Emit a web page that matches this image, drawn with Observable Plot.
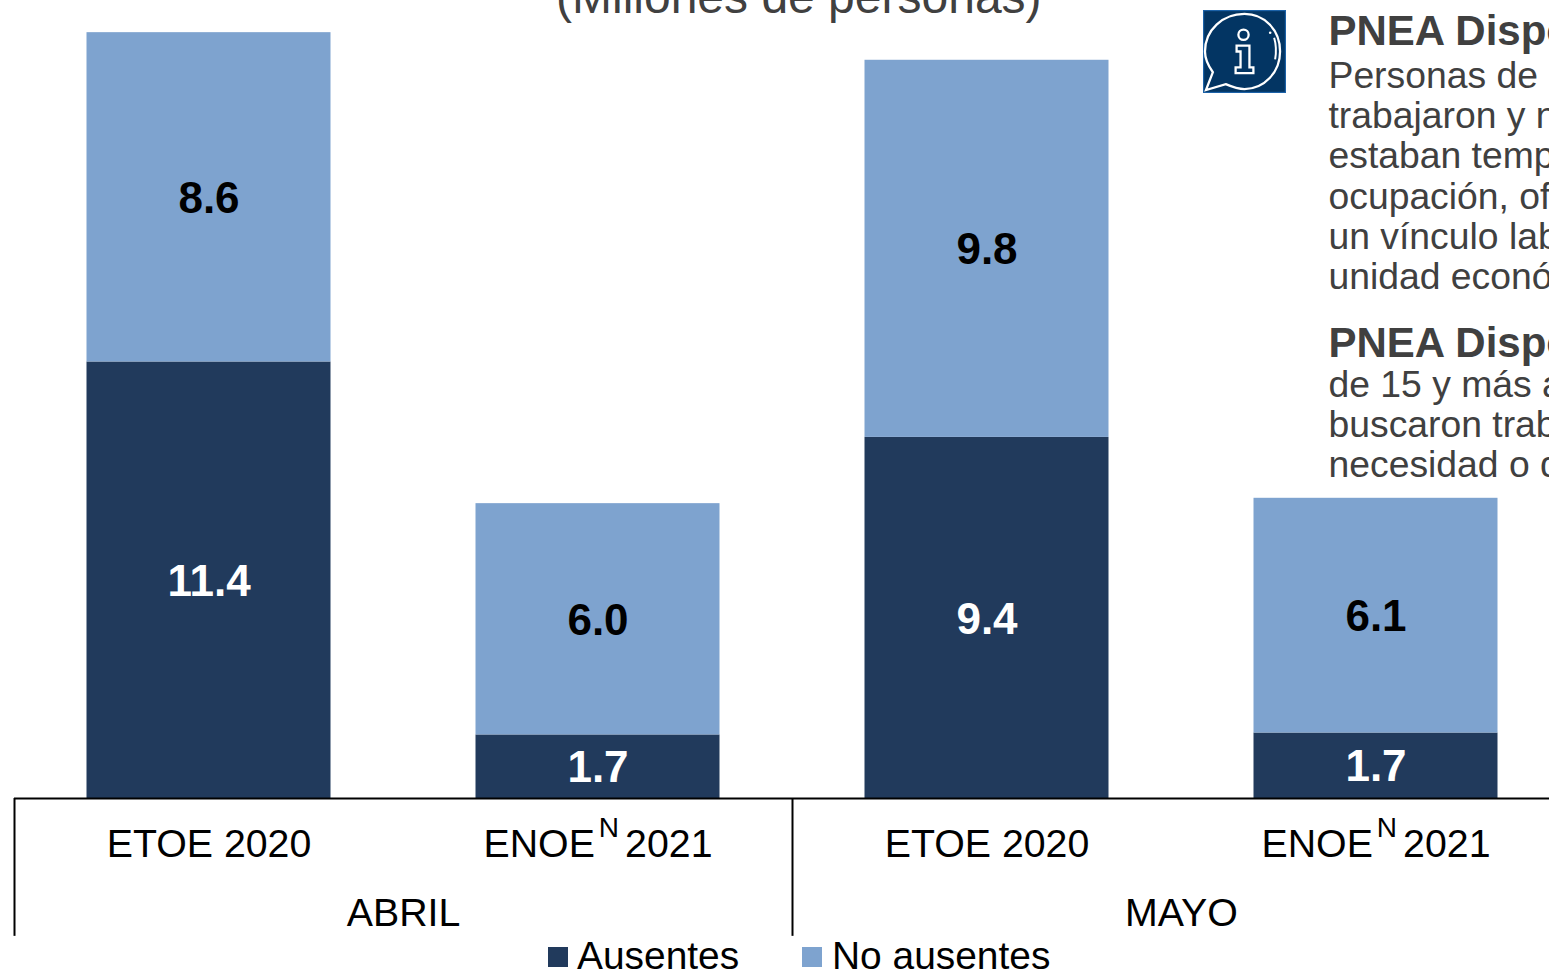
<!DOCTYPE html>
<html lang="es">
<head>
<meta charset="utf-8">
<title>PNEA Disponible</title>
<script src="https://cdn.jsdelivr.net/npm/d3@7"></script>
<script src="https://cdn.jsdelivr.net/npm/@observablehq/plot@0.6"></script>
<style>
  html, body { margin: 0; padding: 0; width: 1549px; height: 970px; overflow: hidden; background: #fff; font-family: "Liberation Sans", Arial, sans-serif; }
  #chart { position: absolute; left: 0; top: 0; }
  .t { position: absolute; white-space: nowrap; }
  #title { left: 556px; top: -31.5px; font-size: 48px; line-height: 56px; color: #404040; }
  .info { left: 1328.5px; color: #404040; font-size: 37.3px; line-height: 40.2px; }
  .info b { font-size: 42px; }
  #icon { position: absolute; left: 1203px; top: 9.5px; }
  .lg { position: absolute; top: 947px; width: 20px; height: 20px; }
  .lgt { top: 934px; font-size: 38.9px; line-height: 44px; color: #000; }
</style>
</head>
<body>
<div id="chart"></div>
<div class="t" id="title">(Millones de personas)</div>
<svg id="icon" width="83" height="83" viewBox="0 0 84 84">
  <rect x="0.5" y="0.5" width="83" height="83" fill="#033563" stroke="#1c62a8" stroke-width="1.4"/>
  <path d="M42 4 C62 4 78 20 78 42 C78 63 62 80 42 80 C35 80 30 78 23 75 L3 81 L10 63 C5 56 2 50 2 42 C2 20 20 4 42 4 Z" fill="none" stroke="#fff" stroke-width="2.3"/>
  <circle cx="41" cy="25" r="5.2" fill="none" stroke="#fff" stroke-width="2.3"/>
  <path d="M34 36 H47 V58 H51 V64 H33 V58 H38 V42 H34 Z" fill="none" stroke="#fff" stroke-width="2.3"/>
  <path d="M72 28 Q75 38 73 50" fill="none" stroke="#fff" stroke-width="2"/>
  <circle cx="68" cy="23" r="1.3" fill="#fff"/>
</svg>
<div class="t info" style="top:11px;"><b>PNEA Disponible</b></div>
<div class="t info" style="top:55px;">Personas de<br>trabajaron y no<br>estaban temporal<br>ocupación, oficio<br>un vínculo laboral<br>unidad económica</div>
<div class="t info" style="top:323px;"><b>PNEA Disponible</b></div>
<div class="t info" style="top:364px;">de 15 y más años<br>buscaron trabajo<br>necesidad o deseo</div>
<div class="lg" style="left:548px;background:#213A5C;"></div>
<div class="t lgt" style="left:577px;">Ausentes</div>
<div class="lg" style="left:802px;background:#7EA3CF;"></div>
<div class="t lgt" style="left:832px;">No ausentes</div>
<script>
const months = ["ABRIL", "MAYO"];
const surveys = ["ETOE 2020", "ENOE 2021"];
const series = ["Ausentes", "No ausentes"];
const ausentes = [11.4, 1.66, 9.43, 1.71];
const noAusentes = [8.6, 6.04, 9.849, 6.13];
const colors = ["#213A5C", "#7EA3CF"];

const rows = [];
months.forEach((m, i) => surveys.forEach((s, j) => {
  const k = i * surveys.length + j;
  rows.push({month: m, survey: s, series: series[0], value: ausentes[k]});
  rows.push({month: m, survey: s, series: series[1], value: noAusentes[k]});
}));

const plot = Plot.plot({
  width: 1569.5,
  height: 936,
  marginLeft: 13.5,
  marginRight: 0,
  marginTop: 0,
  marginBottom: 138,
  style: {maxWidth: "none", background: "transparent", fontFamily: "'Liberation Sans', Arial, sans-serif", overflow: "visible"},
  fx: {domain: months, padding: 0},
  x: {domain: surveys, paddingInner: 0.3735, paddingOuter: 0.18675},
  y: {domain: [0, 20.84], axis: null},
  color: {domain: series, range: colors},
  marks: [
    Plot.barY(rows, {fx: "month", x: "survey", y: "value", fill: "series"}),
    Plot.text(rows, Plot.stackY({
      fx: "month", x: "survey", y: "value", z: "series",
      text: d => d.value.toFixed(1),
      fill: {value: d => d.series === series[0] ? "white" : "black", scale: null},
      fontSize: 44, fontWeight: "bold", dy: 1.5
    })),
    Plot.ruleY([0], {stroke: "black", strokeWidth: 2}),
    Plot.ruleX([surveys[0]], {y1: 0, y2: -3.6, dx: -194.5, stroke: "black", strokeWidth: 2}),
    Plot.axisX({anchor: "bottom", label: null, tickSize: 0, tickPadding: 31, fontSize: 39.3, fill: "black", lineAnchor: "top"}),
    Plot.axisFx({anchor: "bottom", label: null, tickSize: 0, tickPadding: 100, fontSize: 39.3, fill: "black", lineAnchor: "top"})
  ]
});

d3.select(plot).selectAll("text").filter(function () { return this.textContent === surveys[1]; }).each(function () {
  const t = d3.select(this);
  t.text(null);
  t.append("tspan").text("ENOE");
  t.append("tspan").attr("dx", "4").attr("dy", "-20").style("font-size", "28px").text("N");
  t.append("tspan").attr("dx", "6").attr("dy", "20").text("2021");
});

document.getElementById("chart").appendChild(plot);
</script>
</body>
</html>
